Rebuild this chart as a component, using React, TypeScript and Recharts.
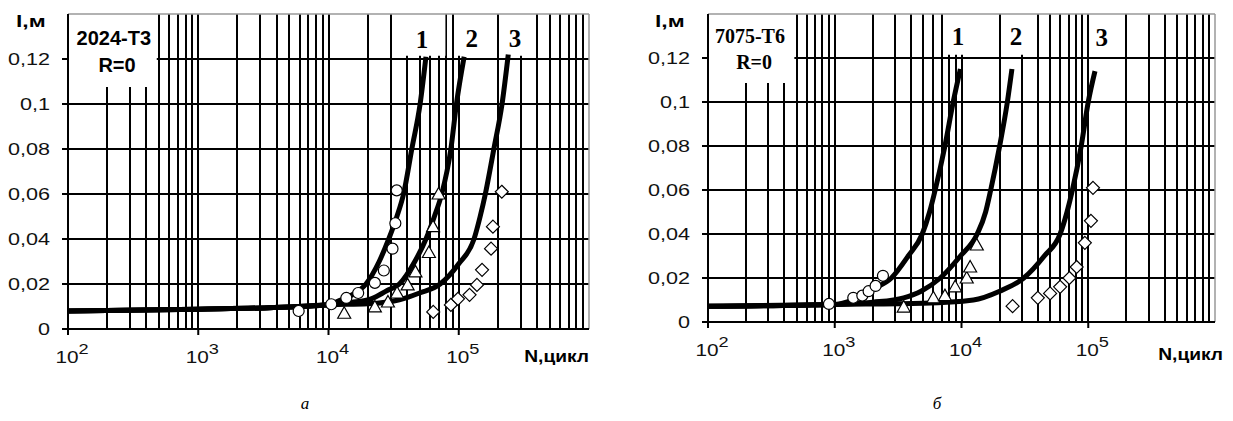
import React from 'react';
import { ComposedChart, Line, Scatter, XAxis, YAxis, CartesianGrid, ReferenceLine, ReferenceArea, ReferenceDot } from 'recharts';

// ---------- shared axis data ----------
const yTicks = [0, 0.02, 0.04, 0.06, 0.08, 0.1, 0.12];
const yGrid = [0.02, 0.04, 0.06, 0.08, 0.1, 0.12];
const xTicks = [100, 1000, 10000, 100000];
const decades = [100, 1000, 10000, 100000];
const multipliers = [2, 3, 4, 5, 6, 7, 8, 9, 10];
const xDomain = [100, 1000000];
const yDomain = [0, 0.14];

// ---------- chart а: 2024-T3 ----------
const curveA1 = [
  { x: 100, y: 0.008 }, { x: 1000, y: 0.0088 }, { x: 5000, y: 0.0098 }, { x: 10000, y: 0.0108 },
  { x: 12000, y: 0.0125 }, { x: 15000, y: 0.015 }, { x: 19400, y: 0.02 }, { x: 24500, y: 0.03 },
  { x: 29000, y: 0.04 }, { x: 33500, y: 0.05 }, { x: 37700, y: 0.06 }, { x: 43600, y: 0.08 },
  { x: 50500, y: 0.1 }, { x: 56000, y: 0.121 },
];
const curveA2 = [
  { x: 100, y: 0.008 }, { x: 1000, y: 0.0088 }, { x: 5000, y: 0.0098 }, { x: 10000, y: 0.0108 },
  { x: 15000, y: 0.0118 }, { x: 21500, y: 0.0135 }, { x: 28000, y: 0.017 }, { x: 35000, y: 0.02 },
  { x: 46000, y: 0.03 }, { x: 56000, y: 0.04 }, { x: 65000, y: 0.05 }, { x: 74000, y: 0.06 },
  { x: 87000, y: 0.08 }, { x: 96000, y: 0.1 }, { x: 110000, y: 0.121 },
];
const curveA3 = [
  { x: 100, y: 0.008 }, { x: 1000, y: 0.0088 }, { x: 5000, y: 0.0098 }, { x: 10000, y: 0.0108 },
  { x: 20000, y: 0.0112 }, { x: 35000, y: 0.013 }, { x: 50000, y: 0.016 }, { x: 72000, y: 0.02 },
  { x: 100000, y: 0.029 }, { x: 131000, y: 0.04 }, { x: 146000, y: 0.05 }, { x: 160000, y: 0.06 },
  { x: 186000, y: 0.08 }, { x: 215000, y: 0.1 }, { x: 240000, y: 0.122 },
];
const circlesA = [
  { x: 5900, y: 0.008 }, { x: 10500, y: 0.011 }, { x: 13700, y: 0.0138 }, { x: 16900, y: 0.016 },
  { x: 22700, y: 0.0205 }, { x: 26600, y: 0.026 }, { x: 31000, y: 0.0357 }, { x: 32600, y: 0.047 },
  { x: 33400, y: 0.0616 },
];
const trianglesA = [
  { x: 13200, y: 0.007 }, { x: 22700, y: 0.0098 }, { x: 28600, y: 0.012 }, { x: 33600, y: 0.016 },
  { x: 40500, y: 0.0196 }, { x: 46500, y: 0.0254 }, { x: 59000, y: 0.034 }, { x: 63500, y: 0.0455 },
  { x: 70000, y: 0.06 },
];
const diamondsA = [
  { x: 63700, y: 0.0076 }, { x: 87000, y: 0.0107 }, { x: 98600, y: 0.0134 }, { x: 121000, y: 0.0152 },
  { x: 138000, y: 0.0196 }, { x: 151000, y: 0.0263 }, { x: 177000, y: 0.0357 }, { x: 183000, y: 0.0455 },
  { x: 214000, y: 0.061 },
];

// ---------- chart б: 7075-T6 ----------
const curveB1 = [
  { x: 100, y: 0.0072 }, { x: 1000, y: 0.008 }, { x: 1380, y: 0.01 }, { x: 2000, y: 0.015 },
  { x: 2800, y: 0.02 }, { x: 3800, y: 0.03 }, { x: 4900, y: 0.04 }, { x: 5600, y: 0.05 },
  { x: 6200, y: 0.06 }, { x: 7400, y: 0.08 }, { x: 8600, y: 0.1 }, { x: 9800, y: 0.115 },
];
const curveB2 = [
  { x: 100, y: 0.0072 }, { x: 1000, y: 0.008 }, { x: 2000, y: 0.009 }, { x: 3500, y: 0.011 },
  { x: 4800, y: 0.014 }, { x: 6800, y: 0.02 }, { x: 9800, y: 0.03 }, { x: 13300, y: 0.04 },
  { x: 15500, y: 0.05 }, { x: 17000, y: 0.06 }, { x: 20000, y: 0.08 }, { x: 23000, y: 0.1 },
  { x: 25000, y: 0.115 },
];
const curveB3 = [
  { x: 100, y: 0.0072 }, { x: 1000, y: 0.008 }, { x: 5000, y: 0.0085 }, { x: 12400, y: 0.01 },
  { x: 20000, y: 0.014 }, { x: 31000, y: 0.02 }, { x: 45000, y: 0.03 }, { x: 60000, y: 0.04 },
  { x: 68000, y: 0.05 }, { x: 75000, y: 0.06 }, { x: 88000, y: 0.08 }, { x: 100000, y: 0.1 },
  { x: 113000, y: 0.114 },
];
const circlesB = [
  { x: 900, y: 0.0082 }, { x: 1400, y: 0.011 }, { x: 1650, y: 0.012 }, { x: 1850, y: 0.014 },
  { x: 2100, y: 0.0164 }, { x: 2400, y: 0.021 },
];
const trianglesB = [
  { x: 3500, y: 0.0068 }, { x: 6000, y: 0.011 }, { x: 7400, y: 0.012 }, { x: 8900, y: 0.016 },
  { x: 11000, y: 0.02 }, { x: 11700, y: 0.025 }, { x: 13200, y: 0.035 },
];
const diamondsB = [
  { x: 25300, y: 0.0072 }, { x: 40000, y: 0.011 }, { x: 50000, y: 0.013 }, { x: 60000, y: 0.016 },
  { x: 71000, y: 0.02 }, { x: 81000, y: 0.025 }, { x: 94000, y: 0.036 }, { x: 105000, y: 0.046 },
  { x: 109000, y: 0.061 },
];

// ---------- label boxes / captions ----------
const boxesA = [
  { x1: 100, x2: 480, y1: 0.1076, y2: 0.14 },
  { x1: 31000, x2: 79000, y1: 0.1215, y2: 0.14 },
  { x1: 95000, x2: 195000, y1: 0.1215, y2: 0.14 },
  { x1: 205000, x2: 380000, y1: 0.1215, y2: 0.14 },
];
const boxesB = [
  { x1: 100, x2: 480, y1: 0.1086, y2: 0.14 },
  { x1: 7500, x2: 19500, y1: 0.1215, y2: 0.14 },
  { x1: 20500, x2: 37000, y1: 0.1215, y2: 0.14 },
  { x1: 105000, x2: 170000, y1: 0.1215, y2: 0.14 },
];
const curveLabelsA = [
  { x: 52300, y: 0.1290, text: '1' }, { x: 126000, y: 0.1292, text: '2' }, { x: 270000, y: 0.1294, text: '3' },
];
const curveLabelsB = [
  { x: 9380, y: 0.1298, text: '1' }, { x: 26900, y: 0.1298, text: '2' }, { x: 128000, y: 0.1296, text: '3' },
];
const titleA = [{ x: 225, y: 0.1293, text: '2024-T3' }, { x: 238, y: 0.1173, text: 'R=0' }];
const titleB = [{ x: 214, y: 0.130, text: '7075-T6' }, { x: 231, y: 0.1182, text: 'R=0' }];

const gridX = decades.flatMap((d) => multipliers.map((m) => m * d)).filter((v) => v < 1000000);

const SANS = '"Liberation Sans", Arial, sans-serif';
const SERIF = '"Liberation Serif", "Times New Roman", serif';

const fmtY = (v: number) => (v === 0 ? '0' : String(v).replace('.', ','));

const YTick = (props: any) => {
  const { x, y, payload } = props;
  return (
    <text transform={`translate(${x},${y + 6}) scale(1.35,1)`} textAnchor="end" fontSize={16} fontFamily={SANS} fill="#111">
      {fmtY(payload.value)}
    </text>
  );
};

const XTick = (props: any) => {
  const { x, y, payload } = props;
  const exp = Math.round(Math.log10(payload.value));
  return (
    <text transform={`translate(${x + 4},${y + 26}) scale(1.3,1)`} textAnchor="middle" fontSize={16} fontFamily={SANS} fill="#111">
      <tspan>10</tspan>
      <tspan dy={-9} fontSize={14}>{exp}</tspan>
    </text>
  );
};

const CircleMark = (p: any) => (
  <circle cx={p.cx} cy={p.cy} r={5.5} fill="#fff" stroke="#000" strokeWidth={1.2} />
);
const TriMark = (p: any) => (
  <polygon
    points={`${p.cx},${p.cy - 6.5} ${p.cx + 6.5},${p.cy + 5} ${p.cx - 6.5},${p.cy + 5}`}
    fill="#fff" stroke="#000" strokeWidth={1.2}
  />
);
const DiaMark = (p: any) => (
  <polygon
    points={`${p.cx},${p.cy - 6.5} ${p.cx + 6.5},${p.cy} ${p.cx},${p.cy + 6.5} ${p.cx - 6.5},${p.cy}`}
    fill="#fff" stroke="#000" strokeWidth={1.2}
  />
);

type Pt = { x: number; y: number };
type PanelProps = {
  left: number; width: number; margin: any;
  curves: Pt[][]; circles: Pt[]; triangles: Pt[]; diamonds: Pt[];
  boxes: any[]; curveLabels: any[]; title: any[]; titleFont: string;
};

const Panel = (props: PanelProps) => {
  const { left, width, margin, curves, circles, triangles, diamonds, boxes, curveLabels, title, titleFont } = props;
  return (
    <div style={{ position: 'absolute', left, top: 0 }}>
      <ComposedChart width={width} height={421} margin={margin}>
        <CartesianGrid
          verticalValues={gridX} horizontalValues={yGrid}
          stroke="#000" strokeWidth={2} strokeOpacity={1} shapeRendering="crispEdges"
        />
        <XAxis
          type="number" dataKey="x" scale="log" domain={xDomain} ticks={xTicks} allowDataOverflow
          height={40} axisLine={{ stroke: '#000', strokeWidth: 2 }} tickLine={{ stroke: '#000', strokeWidth: 2 }}
          tickSize={6} tick={<XTick />} interval={0}
        />
        <YAxis
          type="number" dataKey="y" domain={yDomain} ticks={yTicks} allowDataOverflow width={60}
          axisLine={{ stroke: '#000', strokeWidth: 2 }} tickLine={{ stroke: '#000', strokeWidth: 2 }}
          tickSize={6} tickMargin={12} tick={<YTick />} interval={0}
        />
        <ReferenceLine x={1000000} stroke="#999" strokeWidth={1.5} />
        <ReferenceLine y={0.14} stroke="#999" strokeWidth={1.5} />
        {boxes.map((b, i) => (
          <ReferenceArea key={'b' + i} x1={b.x1} x2={b.x2} y1={b.y1} y2={b.y2} fill="#fff" fillOpacity={1} stroke="none" />
        ))}
        {curves.map((c, i) => (
          <Line key={'c' + i} data={c} dataKey="y" type="monotone" stroke="#000" strokeWidth={5}
            dot={false} activeDot={false} isAnimationActive={false} />
        ))}
        <Scatter data={circles} dataKey="y" shape={CircleMark} isAnimationActive={false} />
        <Scatter data={triangles} dataKey="y" shape={TriMark} isAnimationActive={false} />
        <Scatter data={diamonds} dataKey="y" shape={DiaMark} isAnimationActive={false} />
        {curveLabels.map((l, i) => (
          <ReferenceDot key={'l' + i} x={l.x} y={l.y} r={0} fill="none" stroke="none"
            label={{ value: l.text, position: 'center', fontSize: 25, fontWeight: 700, fontFamily: SERIF, fill: '#000' }} />
        ))}
        {title.map((l, i) => (
          <ReferenceDot key={'t' + i} x={l.x} y={l.y} r={0} fill="none" stroke="none"
            label={{ value: l.text, position: 'center', fontSize: 20, fontWeight: 700, fontFamily: titleFont, fill: '#000' }} />
        ))}
      </ComposedChart>
    </div>
  );
};

export default function App() {
  return (
    <div style={{ position: 'absolute', left: 0, top: 0, width: 1233, height: 421, background: '#fff', overflow: 'hidden' }}>
      <Panel
        left={0} width={610} margin={{ top: 14, right: 21, bottom: 52, left: 8 }}
        curves={[curveA1, curveA2, curveA3]} circles={circlesA} triangles={trianglesA} diamonds={diamondsA}
        boxes={boxesA} curveLabels={curveLabelsA} title={titleA} titleFont={SANS}
      />
      <Panel
        left={620} width={613} margin={{ top: 14, right: 18, bottom: 59, left: 28 }}
        curves={[curveB1, curveB2, curveB3]} circles={circlesB} triangles={trianglesB} diamonds={diamondsB}
        boxes={boxesB} curveLabels={curveLabelsB} title={titleB} titleFont={SERIF}
      />
      <svg width={1233} height={421} style={{ position: 'absolute', left: 0, top: 0, pointerEvents: 'none' }}>
        <text transform="translate(16,27) scale(1.35,1)" fontSize={17} fontWeight={700} fontFamily={SANS} fill="#000">l,м</text>
        <text transform="translate(655,27) scale(1.35,1)" fontSize={17} fontWeight={700} fontFamily={SANS} fill="#000">l,м</text>
        <text transform="translate(589,362) scale(1.2,1)" textAnchor="end" fontSize={16} fontWeight={700} fontFamily={SANS} fill="#000">N,цикл</text>
        <text transform="translate(1223,360) scale(1.2,1)" textAnchor="end" fontSize={16} fontWeight={700} fontFamily={SANS} fill="#000">N,цикл</text>
        <text x={305} y={409} textAnchor="middle" fontSize={17} fontStyle="italic" fontFamily={SERIF} fill="#000">а</text>
        <text x={937} y={409} textAnchor="middle" fontSize={17} fontStyle="italic" fontFamily={SERIF} fill="#000">б</text>
      </svg>
    </div>
  );
}
